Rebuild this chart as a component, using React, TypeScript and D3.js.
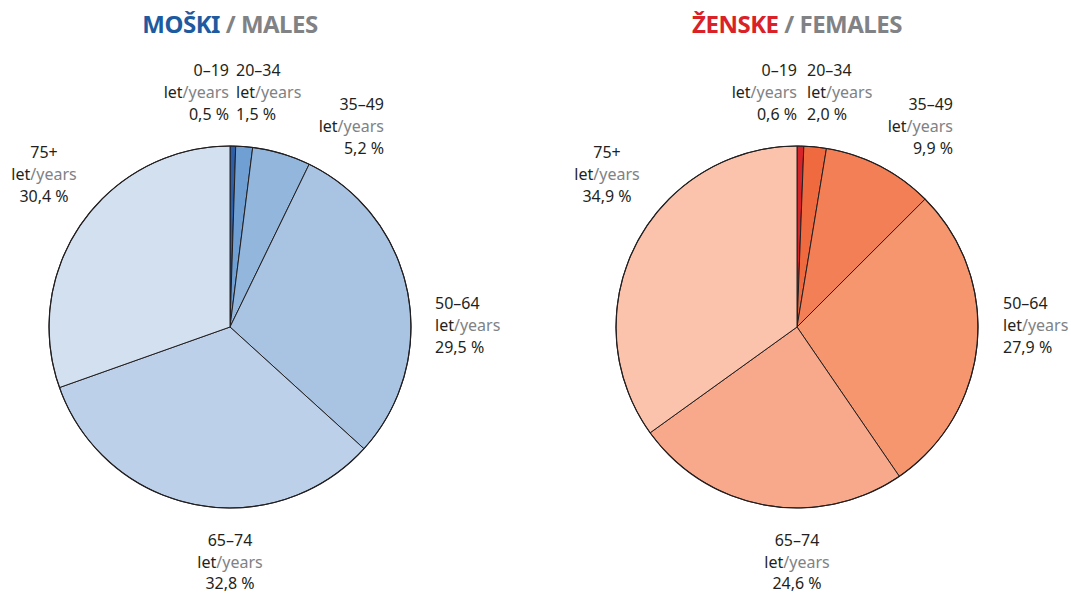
import React from "react";
import * as d3 from "d3";

// age groups, shares in %
const groups = ["0–19", "20–34", "35–49", "50–64", "65–74", "75+"];
const maleValues = [0.5, 1.5, 5.2, 29.5, 32.8, 30.4];
const femaleValues = [0.6, 2.0, 9.9, 27.9, 24.6, 34.9];
const maleLabels = ["0,5 %", "1,5 %", "5,2 %", "29,5 %", "32,8 %", "30,4 %"];
const femaleLabels = ["0,6 %", "2,0 %", "9,9 %", "27,9 %", "24,6 %", "34,9 %"];

const maleColors = ["#2e5ea6", "#6f9fd3", "#92b6dc", "#a8c4e2", "#bcd0e9", "#d3e0ef"];
const femaleColors = ["#d7242a", "#f06a3f", "#f37f57", "#f6966f", "#f8a98b", "#fbc3ab"];

const W = 1071;
const H = 594;
const R = 181;
const font = "'Noto Sans', sans-serif";

// label placement relative to pie center: [dx, dy of first line, anchor, line gap]
type Place = [number, number, "start" | "middle" | "end", number];
const maleLayout: Place[] = [
  [-1, -251, "end", 22],
  [6, -251, "start", 22],
  [154, -217, "end", 22],
  [205, -18, "start", 22],
  [0, 219, "middle", 21.5],
  [-186, -169, "middle", 22],
];
const femaleLayout: Place[] = [
  [0, -251, "end", 22],
  [10, -251, "start", 22],
  [156, -217, "end", 22],
  [206, -18, "start", 22],
  [0, 219, "middle", 21.5],
  [-190, -169, "middle", 22],
];

function Pie(props: {
  cx: number;
  cy: number;
  values: number[];
  labels: string[];
  colors: string[];
  layout: Place[];
  title: string;
  titleColor: string;
  subtitle: string;
}) {
  const { cx, cy, values, labels, colors, layout } = props;
  const pie = d3.pie<number>().sort(null).value((d) => d)(values);
  const arc = d3.arc<d3.PieArcDatum<number>>().innerRadius(0).outerRadius(R);
  return (
    <g>
      <text
        x={cx}
        y={33}
        textAnchor="middle"
        fontFamily={font}
        fontWeight="bold"
        fontSize={24}
        letterSpacing={-0.5}
      >
        <tspan fill={props.titleColor}>{props.title}</tspan>
        <tspan fill="#808285"> / {props.subtitle}</tspan>
      </text>
      <g transform={`translate(${cx},${cy})`}>
        {pie.map((p, i) => (
          <path
            key={i}
            d={arc(p) || ""}
            fill={colors[i]}
            stroke="#231f20"
            strokeWidth={1}
            strokeLinejoin="round"
          />
        ))}
        <circle r={R} fill="none" stroke="#231f20" strokeWidth={1.2} />
        {groups.map((g, i) => {
          const [dx, dy, anchor, gap] = layout[i];
          return (
            <text
              key={g}
              x={dx}
              y={dy}
              textAnchor={anchor}
              fontFamily={font}
              fontSize={16}
              fill="#231f20"
            >
              <tspan x={dx} dy={0}>{g}</tspan>
              <tspan x={dx} dy={gap}>
                let<tspan fill="#808285">/years</tspan>
              </tspan>
              <tspan x={dx} dy={gap}>{labels[i]}</tspan>
            </text>
          );
        })}
      </g>
    </g>
  );
}

export default function App() {
  return (
    <svg width={W} height={H} style={{ position: "absolute", left: 0, top: 0, background: "#fff" }}>
      <Pie
        cx={230}
        cy={327}
        values={maleValues}
        labels={maleLabels}
        colors={maleColors}
        layout={maleLayout}
        title="MOŠKI"
        titleColor="#1d5aa0"
        subtitle="MALES"
      />
      <Pie
        cx={797}
        cy={327}
        values={femaleValues}
        labels={femaleLabels}
        colors={femaleColors}
        layout={femaleLayout}
        title="ŽENSKE"
        titleColor="#da2128"
        subtitle="FEMALES"
      />
    </svg>
  );
}
